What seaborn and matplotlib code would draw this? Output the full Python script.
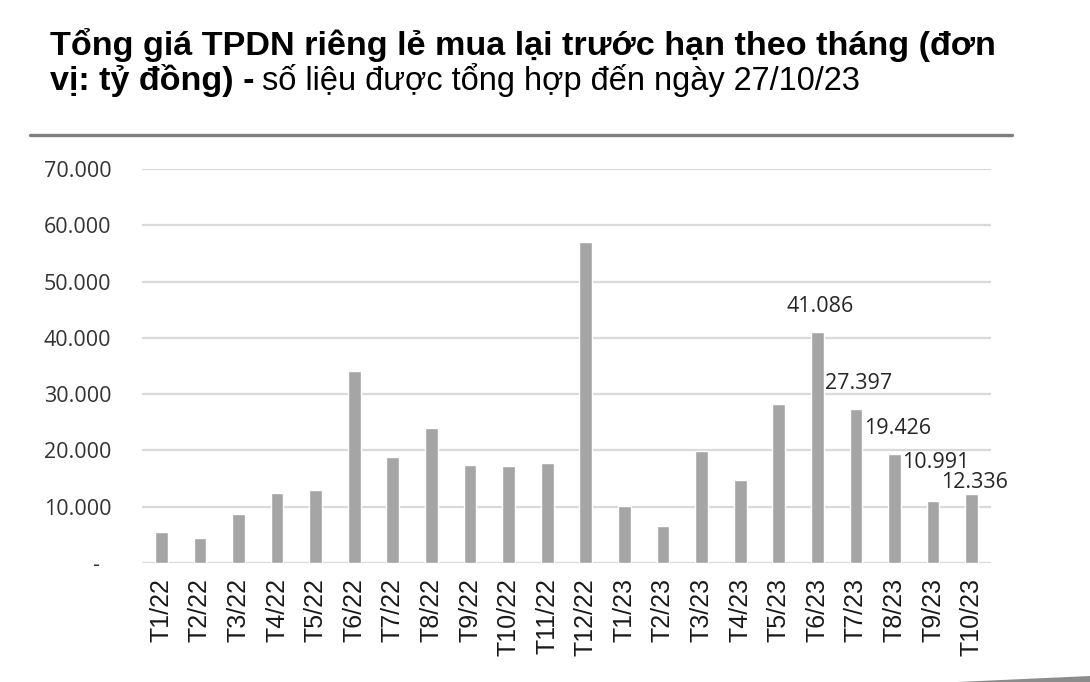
import matplotlib
matplotlib.use('Agg')
import matplotlib.pyplot as plt
from matplotlib.patches import Polygon
from matplotlib.lines import Line2D
import seaborn as sns
import pandas as pd

# Số liệu (tỷ đồng)
months = ['T1/22', 'T2/22', 'T3/22', 'T4/22', 'T5/22', 'T6/22', 'T7/22', 'T8/22',
          'T9/22', 'T10/22', 'T11/22', 'T12/22', 'T1/23', 'T2/23', 'T3/23', 'T4/23',
          'T5/23', 'T6/23', 'T7/23', 'T8/23', 'T9/23', 'T10/23']
values = [5500, 4400, 8700, 12400, 13000, 34100, 18800, 24000,
          17500, 17200, 17700, 57100, 10200, 6500, 19900, 14700,
          28200, 41086, 27397, 19426, 10991, 12336]
labelled = ['T6/23', 'T7/23', 'T8/23', 'T9/23', 'T10/23']
yticks = [0, 10000, 20000, 30000, 40000, 50000, 60000, 70000]

title_bold_1 = 'Tổng giá TPDN riêng lẻ mua lại trước hạn theo tháng (đơn'
title_bold_2 = 'vị: tỷ đồng) -'
title_normal_2 = 'số liệu được tổng hợp đến ngày 27/10/23'

df = pd.DataFrame({'month': months, 'value': values})

sns.set_style('white')
plt.rcParams['font.family'] = ['Liberation Sans', 'DejaVu Sans']

W, H = 1090, 682
fig = plt.figure(figsize=(W / 100, H / 100), dpi=100)
ax = fig.add_axes([142 / W, 1 - 563 / H, (991 - 142) / W, (563 - 169) / H])

sns.barplot(data=df, x='month', y='value', color='#a5a5a5', saturation=1,
            width=0.33, ax=ax)

ax.set_ylim(0, 70000)
ax.set_yticks(yticks)
ax.set_yticklabels(['-  '] + [f'{v:,.0f}'.replace(',', '.') for v in yticks[1:]],
                   fontsize=15.5, color='#333333', family=['Open Sans', 'DejaVu Sans'])
ax.grid(axis='y', color='#d9d9d9', linewidth=1.6)
ax.set_axisbelow(True)
for s in ax.spines.values():
    s.set_visible(False)
ax.tick_params(axis='both', length=0)
ax.tick_params(axis='y', pad=22)
ax.tick_params(axis='x', pad=11)
plt.setp(ax.get_xticklabels(), rotation=90, fontsize=18, color='#1a1a1a', va='top')
ax.set_xlabel('')
ax.set_ylabel('')
ax.set_xlim(-0.5, len(months) - 0.5)

# nhãn giá trị
offsets = {'T6/23': 14, 'T7/23': 14, 'T8/23': 14, 'T9/23': 24, 'T10/23': 4}
for i, (m, v) in enumerate(zip(months, values)):
    if m in labelled:
        ax.annotate(f'{v:,.0f}'.replace(',', '.'), (i, v), xytext=(2, offsets[m]),
                    textcoords='offset points', ha='center', va='baseline',
                    fontsize=15.5, color='#262626', family=['Open Sans', 'DejaVu Sans'])

# tiêu đề
t1 = fig.text(50 / W, 1 - 55 / H, title_bold_1, fontsize=20, fontweight='bold',
              color='black', va='baseline')
fig.canvas.draw()
r = fig.canvas.get_renderer()
w = t1.get_window_extent(r).width
fs = 20 * (945 / w)
t1.set_fontsize(fs)
t2 = fig.text(50 / W, 1 - 90 / H, title_bold_2, fontsize=fs, fontweight='bold',
              color='black', va='baseline')
w2 = t2.get_window_extent(r).width
t3 = fig.text((50 + w2 + 8) / W, 1 - 90 / H, title_normal_2, fontsize=fs,
              color='black', va='baseline')
w3 = t3.get_window_extent(r).width
t3.set_fontsize(fs * (860 - 58 - w2) / w3)

# đường kẻ dưới tiêu đề
fig.add_artist(Line2D([30 / W, 1012 / W], [1 - 135 / H, 1 - 135 / H],
                      color='#7f7f7f', linewidth=2.4))

# vệt bóng góc dưới phải
fig.add_artist(Polygon([(957 / W, 0), (1090 / W, 6 / H), (1090 / W, 0)],
                       closed=True, facecolor='#8c8c8c', edgecolor='none'))

fig.savefig('out.png', dpi=100)
